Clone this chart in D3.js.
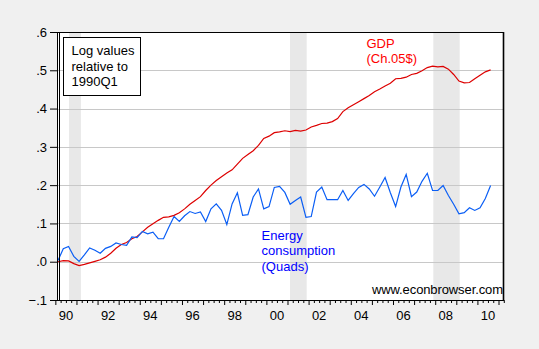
<!DOCTYPE html>
<html>
<head>
<meta charset="utf-8">
<script src="https://d3js.org/d3.v7.min.js"></script>
<style>
  body { margin: 0; background: #f0f0f0; }
  text { font-family: Arial, "Liberation Sans", sans-serif; }
</style>
</head>
<body>
<div id="chart"></div>
<script>
// quarterly data, 1990Q1 .. 2010Q3, log values relative to 1990Q1
var startYear = 1990;
var gdp = [
  0.000, 0.003, 0.002, -0.005,
  -0.010, -0.007, -0.003, 0.001,
  0.005, 0.012, 0.022, 0.035,
  0.045, 0.050, 0.060, 0.066,
  0.078, 0.090, 0.099, 0.108,
  0.116, 0.117, 0.121, 0.128,
  0.138, 0.150, 0.160, 0.170,
  0.186, 0.200, 0.212, 0.222,
  0.232, 0.240, 0.255, 0.270,
  0.280, 0.290, 0.304, 0.322,
  0.328, 0.337, 0.339, 0.342,
  0.340, 0.343, 0.341, 0.344,
  0.352, 0.356, 0.361, 0.362,
  0.366, 0.374, 0.392, 0.402,
  0.410, 0.418, 0.426, 0.434,
  0.444, 0.451, 0.459, 0.466,
  0.478, 0.479, 0.482, 0.489,
  0.492, 0.499, 0.507, 0.511,
  0.509, 0.510, 0.503, 0.489,
  0.472, 0.467, 0.468, 0.478,
  0.487, 0.496, 0.501
];
var energy = [
  0.003, 0.034, 0.040, 0.014,
  0.001, 0.018, 0.036, 0.030,
  0.022, 0.035, 0.040, 0.049,
  0.045, 0.043, 0.065, 0.063,
  0.079, 0.073, 0.077, 0.060,
  0.060, 0.090, 0.118, 0.105,
  0.120, 0.131, 0.126, 0.130,
  0.105, 0.138, 0.151, 0.134,
  0.097, 0.151, 0.180, 0.121,
  0.123, 0.169, 0.190, 0.138,
  0.144, 0.194, 0.197, 0.181,
  0.150, 0.160, 0.169, 0.116,
  0.118, 0.182, 0.195, 0.162,
  0.162, 0.162, 0.186, 0.160,
  0.178, 0.194, 0.202, 0.190,
  0.171, 0.195, 0.220, 0.180,
  0.144, 0.195, 0.228, 0.170,
  0.182, 0.210, 0.231, 0.186,
  0.186, 0.199, 0.173, 0.150,
  0.125, 0.128, 0.141, 0.134,
  0.141, 0.165, 0.199
];
// recessions (fractional years, as shaded)
var recessions = [[1990.65, 1991.21], [2001.12, 2001.91], [2007.91, 2009.16]];
var yTicks = [-0.1, 0, 0.1, 0.2, 0.3, 0.4, 0.5, 0.6];
var xLabelYears = [1990, 1992, 1994, 1996, 1998, 2000, 2002, 2004, 2006, 2008, 2010];
var boxLines = ["Log values", "relative to", "1990Q1"];
var gdpLabel = ["GDP", "(Ch.05$)"];
var energyLabel = ["Energy", "consumption", "(Quads)"];

var svgWidth = 539;
var svgHeight = 349;
var margin = { top: 32, right: 35, bottom: 49, left: 57 };
var width = svgWidth - margin.left - margin.right;
var height = svgHeight - margin.top - margin.bottom;

var svg = d3.select("#chart")
  .append("svg")
  .attr("width", svgWidth)
  .attr("height", svgHeight);

var chartGroup = svg.append("g")
  .attr("transform", `translate(${margin.left}, ${margin.top})`);

// observations sit at the middle of each quarter
function qTime(i) { return startYear + i / 4 + 0.125; }

var xScale = d3.scaleLinear()
  .domain([1990.078, 2011.26])
  .range([0, width]);

var yScale = d3.scaleLinear()
  .domain([-0.1, 0.6])
  .range([height, 0]);

// plot background
chartGroup.append("rect")
  .attr("width", width)
  .attr("height", height)
  .attr("fill", "white");

// recession shading
chartGroup.selectAll(".rec")
  .data(recessions)
  .enter()
  .append("rect")
  .attr("x", d => xScale(d[0]))
  .attr("width", d => xScale(d[1]) - xScale(d[0]))
  .attr("y", 0)
  .attr("height", height)
  .attr("fill", "#e8e8e8");

// grid lines
chartGroup.selectAll(".grid")
  .data(yTicks.filter(d => d > -0.1 && d < 0.6))
  .enter()
  .append("line")
  .attr("x1", 0)
  .attr("x2", width)
  .attr("y1", d => Math.round(yScale(d)) + 0.5)
  .attr("y2", d => Math.round(yScale(d)) + 0.5)
  .attr("stroke", "#c8c8c8")
  .attr("stroke-width", 1);

// y axis
var leftAxis = d3.axisLeft(yScale)
  .tickValues(yTicks)
  .tickSize(7)
  .tickPadding(3)
  .tickFormat(d => d3.format(".1f")(d).replace("0.", ".").replace("-0.", "-."));

var yAxis = chartGroup.append("g").call(leftAxis);
yAxis.select(".domain").remove();
yAxis.selectAll("text")
  .attr("font-size", "13px")
  .attr("font-family", "Arial, 'Liberation Sans', sans-serif")
  .attr("fill", "black");

// x axis: quarterly minor ticks, annual longer ticks
var quarterTicks = d3.range(1990 * 4, 2011 * 4 + 2).map(q => q / 4);
var bottomAxis = d3.axisBottom(xScale)
  .tickValues(quarterTicks)
  .tickSize(3)
  .tickFormat("");

var xAxis = chartGroup.append("g")
  .attr("transform", `translate(0,${height})`)
  .call(bottomAxis);
xAxis.select(".domain").remove();
xAxis.selectAll(".tick line")
  .attr("y2", d => (d % 1 === 0 ? 5 : 3));

chartGroup.append("line")
  .attr("x1", -6).attr("x2", width)
  .attr("y1", height + 0.5).attr("y2", height + 0.5)
  .attr("stroke", "black");

chartGroup.selectAll(".xlab")
  .data(xLabelYears)
  .enter()
  .append("text")
  .attr("x", d => xScale(d + 0.5))
  .attr("y", height + 20)
  .attr("text-anchor", "middle")
  .attr("font-size", "13px")
  .text(d => String(d).slice(2));

// series lines
var line = d3.line()
  .x((d, i) => xScale(qTime(i)))
  .y(d => yScale(d));

chartGroup.append("path")
  .datum(gdp)
  .attr("d", line)
  .attr("fill", "none")
  .attr("stroke", "#dd0000")
  .attr("stroke-width", 1.2);

chartGroup.append("path")
  .datum(energy)
  .attr("d", line)
  .attr("fill", "none")
  .attr("stroke", "#0a5ef5")
  .attr("stroke-width", 1.2);

// frame (left side is doubled)
chartGroup.append("rect")
  .attr("x", 0.5).attr("y", 0.5)
  .attr("width", width - 1).attr("height", height)
  .attr("fill", "none")
  .attr("stroke", "black");
chartGroup.append("line")
  .attr("x1", 2.5).attr("x2", 2.5)
  .attr("y1", 0).attr("y2", height)
  .attr("stroke", "black");
chartGroup.append("line")
  .attr("x1", width - 0.5).attr("x2", width - 0.5)
  .attr("y1", 0).attr("y2", height)
  .attr("stroke", "black")
  .attr("stroke-width", 1.6);

// text box
chartGroup.append("rect")
  .attr("x", 6.5).attr("y", 5.5)
  .attr("width", 77).attr("height", 58)
  .attr("fill", "white")
  .attr("stroke", "black");

chartGroup.selectAll(".boxtext")
  .data(boxLines)
  .enter()
  .append("text")
  .attr("x", 14.5)
  .attr("y", (d, i) => 23 + i * 15.5)
  .attr("font-size", "13px")
  .text(d => d);

chartGroup.selectAll(".gdplab")
  .data(gdpLabel)
  .enter()
  .append("text")
  .attr("x", 309.5)
  .attr("y", (d, i) => 15.5 + i * 15.8)
  .attr("font-size", "13px")
  .attr("fill", "#ff0000")
  .text(d => d);

chartGroup.selectAll(".enlab")
  .data(energyLabel)
  .enter()
  .append("text")
  .attr("x", 204.5)
  .attr("y", (d, i) => 207.5 + i * 15.7)
  .attr("font-size", "13px")
  .attr("fill", "#0000ff")
  .text(d => d);

chartGroup.append("text")
  .attr("x", width - 1)
  .attr("y", height - 6)
  .attr("text-anchor", "end")
  .attr("font-size", "13px")
  .attr("textLength", 131)
  .text("www.econbrowser.com");
</script>
</body>
</html>
